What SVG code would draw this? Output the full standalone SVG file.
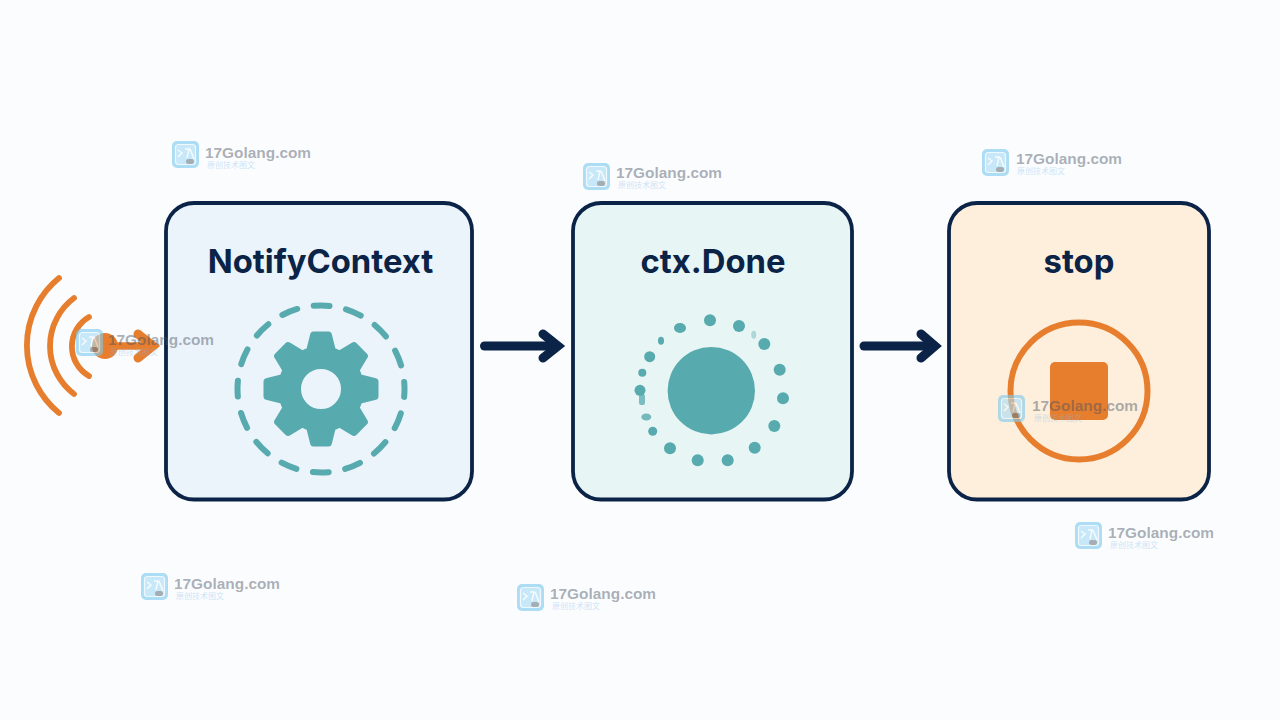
<svg xmlns="http://www.w3.org/2000/svg" xmlns:xlink="http://www.w3.org/1999/xlink" width="1280" height="720" viewBox="0 0 1280 720">
<style>
.box{stroke:#0a2347;stroke-width:3.800}
.title{font-family:Inter,"Noto Sans",sans-serif;font-weight:650;font-size:32.800px;fill:#0a2347;text-anchor:middle}
.teal{fill:#57aaad}
.or{fill:none;stroke:#e67e2e;stroke-linecap:round}
.conn{fill:none;stroke:#0a2347;stroke-linecap:round}
.wt{font-family:"Liberation Sans",Arial,sans-serif;font-weight:700;font-size:15.400px;fill:#46505e;fill-opacity:.46}
.ws{font-family:"Noto Sans CJK SC",sans-serif;font-size:8px;fill:#7db9e8;fill-opacity:.4}
</style>
<defs>
<path id="tooth" d="M-15-38L-11-54Q-10.500-57.500-7.500-57.500H7.500Q10.500-57.500 11-54L15-38Z" fill="#57aaad"/>
<g id="wmi" opacity=".62">
<rect x="0" y="0" width="27" height="27" rx="5" fill="#7fcbef"/>
<rect x="3.500" y="3.500" width="20" height="20" rx="3" fill="#a8dcf6" stroke="#e8f6fd" stroke-width="1.200"/>
<path d="M6 9l4 3-4 4M13 8h4l-2 9M18 8l4 10" fill="none" stroke="#f4fbff" stroke-width="1.500"/>
<rect x="14" y="18" width="8" height="5" rx="2.500" fill="#6f7d88"/>
</g>
</defs>
<rect width="1280" height="720" fill="#fbfcfe"/>

<g id="signal">
<path class="or" stroke-width="5.800" d="M59 278A87 87 0 0 0 59 413"/>
<path class="or" stroke-width="5.800" d="M74 298A60 60 0 0 0 74 394"/>
<path class="or" stroke-width="5.800" d="M89 317A34 34 0 0 0 89 376"/>
<circle cx="105" cy="346" r="13" fill="#e67e2e"/>
<path class="or" stroke-width="7.500" d="M110 346H152"/>
<path class="or" stroke-width="9" stroke-linejoin="miter" d="M138 334L153 346L138 358"/>
</g>

<g id="node-notifycontext">
<rect class="box" x="166" y="203" width="306" height="296.500" rx="28" fill="#ebf3fb"/>
<text class="title" x="320.500" y="273">NotifyContext</text>
<circle cx="321" cy="389" r="83.500" fill="none" stroke="#57aaad" stroke-width="6" stroke-linecap="round" stroke-dasharray="16 16.790" stroke-dashoffset="8"/>
<g transform="translate(321 389)">
<use xlink:href="#tooth"/>
<use xlink:href="#tooth" transform="rotate(45)"/>
<use xlink:href="#tooth" transform="rotate(90)"/>
<use xlink:href="#tooth" transform="rotate(135)"/>
<use xlink:href="#tooth" transform="rotate(180)"/>
<use xlink:href="#tooth" transform="rotate(225)"/>
<use xlink:href="#tooth" transform="rotate(270)"/>
<use xlink:href="#tooth" transform="rotate(315)"/>
<circle r="31.500" fill="none" stroke="#57aaad" stroke-width="23"/>
</g>
</g>

<g id="node-ctx-done">
<rect class="box" x="573" y="203" width="279" height="296.500" rx="28" fill="#e8f5f5"/>
<text class="title" x="713" y="273">ctx.Done</text>
<circle class="teal" cx="711.300" cy="390.700" r="43.700"/>
<g class="teal">
<circle cx="710" cy="320.300" r="6"/><circle cx="739" cy="326" r="6"/><circle cx="764.300" cy="344" r="6"/>
<circle cx="779.700" cy="369.700" r="6"/><circle cx="783" cy="398.300" r="6"/><circle cx="774.300" cy="426" r="6"/>
<circle cx="754.700" cy="447.700" r="6"/><circle cx="727.700" cy="460.300" r="6"/><circle cx="697.700" cy="460.300" r="6"/>
<circle cx="670" cy="448.300" r="6"/><circle cx="652.700" cy="431.300" r="4.500"/><circle cx="640" cy="390.300" r="5.500"/>
<circle cx="642.300" cy="372.700" r="4"/><circle cx="649.700" cy="356.700" r="5.500"/>
<ellipse cx="680" cy="328" rx="6" ry="5"/><ellipse cx="661" cy="340.700" rx="3" ry="4"/>
<rect x="639" y="394" width="6" height="11" rx="2" opacity=".75"/>
<ellipse cx="646.300" cy="417" rx="5" ry="3.500" opacity=".8"/>
<ellipse cx="753.700" cy="334.700" rx="2.500" ry="4" opacity=".4"/>
</g>
</g>

<g id="node-stop">
<rect class="box" x="949" y="203" width="260" height="296.500" rx="28" fill="#fdefdc"/>
<text class="title" x="1079" y="273">stop</text>
<circle cx="1079" cy="391" r="68.500" fill="none" stroke="#e67e2e" stroke-width="6"/>
<rect x="1050" y="362" width="58" height="58" rx="5" fill="#e67e2e"/>
</g>

<g id="connectors">
<path class="conn" stroke-width="9" d="M484.500 346H556"/>
<path class="conn" stroke-width="9" stroke-linejoin="miter" d="M543 334L558 346L543 358"/>
<path class="conn" stroke-width="9" d="M864 346H932"/>
<path class="conn" stroke-width="9" stroke-linejoin="miter" d="M921 334L935 346L921 358"/>
</g>

<g id="watermarks">
<g><use xlink:href="#wmi" x="172" y="141"/><text class="wt" x="205" y="158">17Golang.com</text><text class="ws" x="207" y="168">原创技术图文</text></g>
<g><use xlink:href="#wmi" x="583" y="163"/><text class="wt" x="616" y="178">17Golang.com</text><text class="ws" x="618" y="188">原创技术图文</text></g>
<g><use xlink:href="#wmi" x="982" y="149"/><text class="wt" x="1016" y="164">17Golang.com</text><text class="ws" x="1017" y="174">原创技术图文</text></g>
<g><use xlink:href="#wmi" x="1075" y="522"/><text class="wt" x="1108" y="538">17Golang.com</text><text class="ws" x="1110" y="548">原创技术图文</text></g>
<g><use xlink:href="#wmi" x="141" y="573"/><text class="wt" x="174" y="589">17Golang.com</text><text class="ws" x="176" y="599">原创技术图文</text></g>
<g><use xlink:href="#wmi" x="517" y="584"/><text class="wt" x="550" y="599">17Golang.com</text><text class="ws" x="552" y="609">原创技术图文</text></g>
<g><use xlink:href="#wmi" x="998" y="395"/><text class="wt" x="1032" y="411">17Golang.com</text><text class="ws" x="1034" y="421">原创技术图文</text></g>
<g><use xlink:href="#wmi" x="76" y="329"/><text class="wt" x="108" y="345">17Golang.com</text><text class="ws" x="110" y="355">原创技术图文</text></g>
</g>
</svg>
